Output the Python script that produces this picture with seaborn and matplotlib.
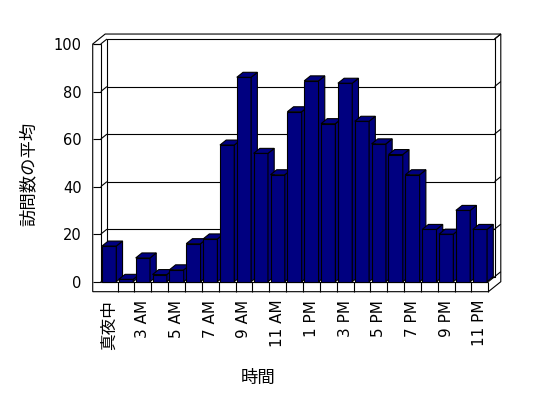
import matplotlib
matplotlib.use("Agg")
import matplotlib.pyplot as plt
from matplotlib.patches import Polygon
import seaborn as sns
import pandas as pd

# データ (時間帯ごとの訪問数の平均)
hours = ["真夜中", "1 AM", "3 AM", "4 AM", "5 AM", "6 AM", "7 AM", "8 AM", "9 AM",
         "10 AM", "11 AM", "12 PM", "1 PM", "2 PM", "3 PM", "4 PM", "5 PM", "6 PM",
         "7 PM", "8 PM", "9 PM", "10 PM", "11 PM"]
visits = [15, 1, 10, 3, 5, 16, 18, 57.5, 86, 54, 45, 71.5, 84.5, 66.5, 83.5, 67.5,
          58, 53.5, 45, 22, 20, 30, 22]
yticks = [0, 20, 40, 60, 80, 100]

df = pd.DataFrame({"時間": hours, "訪問数の平均": visits})

sns.set_style("white")
plt.rcParams['font.family'] = ['DejaVu Sans', 'Noto Sans CJK JP']
for k in ("text.color", "axes.labelcolor", "xtick.color", "ytick.color"):
    plt.rcParams[k] = "black"
jp = ['Noto Sans CJK JP', 'DejaVu Sans']

navy = "#000080"
lw = 0.8

fig = plt.figure(figsize=(5.48, 3.98), dpi=100)
ax = fig.add_axes([0.1838, 0.2922, 0.7073, 0.5972])
ax.set_facecolor("none")

n = len(hours)
x0, x1 = -0.5, n - 0.5
dx, dy = 0.37, 2.1      # 奥行き (データ単位)
xo = x0 - 0.475         # 左の壁の外側
fb = -4.2               # 床の下端


def line(xs, ys, z=1):
    ax.plot(xs, ys, color="black", lw=lw, zorder=z, clip_on=False,
            solid_capstyle="butt")


# 棒 (前面)
sns.barplot(data=df, x="時間", y="訪問数の平均", order=hours, color=navy,
            saturation=1, edgecolor="black", linewidth=lw, width=0.85, ax=ax)
bars = list(ax.containers[0])

# 外枠 (白)
outer = [(xo, fb), (xo, 100), (xo + 2 * dx, 100 + 2 * dy), (x1 + 2 * dx, 100 + 2 * dy),
         (x1 + 2 * dx, fb + 2 * dy), (x1, fb)]
ax.add_patch(Polygon(outer, closed=True, facecolor="white", edgecolor="black",
                     lw=lw, zorder=0, clip_on=False))

# 奥の壁
line([x0 + dx, x1 + dx, x1 + dx, x0 + dx, x0 + dx],
     [dy, dy, 100 + dy, 100 + dy, dy])
line([x1 + dx, x1 + 2 * dx], [100 + dy, 100 + 2 * dy])
# 左の壁
line([x0, x0], [0, 100])
line([xo, x0], [100, 100])
# 目盛線 (奥の壁・左の壁・右端)
for v in yticks:
    line([x0, x0 + dx], [v, v + dy])
    line([x1 + dx, x1 + 2 * dx], [v + dy, v + 2 * dy])
    if 0 < v < 100:
        line([x0 + dx, x1 + dx], [v + dy, v + dy])
# 床
line([x0, x1], [0, 0])
line([x1, x1 + dx], [0, dy])
for k in range(n):
    line([k + 0.5, k + 0.5], [fb, 0])

# 棒の上面と側面
for i, p in enumerate(bars):
    x, w, h = p.get_x(), p.get_width(), p.get_height()
    z = 10 + i
    p.set_zorder(z)
    p.set_clip_on(False)
    side = [(x + w, 0), (x + w + dx, dy), (x + w + dx, h + dy), (x + w, h)]
    top = [(x, h), (x + w, h), (x + w + dx, h + dy), (x + dx, h + dy)]
    for pts in (side, top):
        ax.add_patch(Polygon(pts, closed=True, facecolor=navy, edgecolor="black",
                             lw=lw, zorder=z, clip_on=False))

ax.set_xlim(x0, x1)
ax.set_ylim(0, 100)
for s in ax.spines.values():
    s.set_visible(False)
ax.grid(False)

ax.set_yticks(yticks)
ax.tick_params(axis="y", left=True, direction="out", length=5.8, width=lw,
               pad=8, labelsize=10.5, colors="black")
ax.set_xticks(range(0, n, 2))
ax.set_xticklabels(hours[::2], rotation=90)
ax.tick_params(axis="x", bottom=True, length=0, pad=13, labelsize=11,
               labelcolor="black")
ax.get_xticklabels()[0].set_family(jp)
ax.get_xticklabels()[0].set_fontsize(12)

ax.set_xlabel("時間", fontsize=12.5, family=jp, color="black")
ax.xaxis.set_label_coords(0.406, -0.367)
ax.set_ylabel("訪問数の平均", fontsize=12.5, family=jp, color="black")
ax.yaxis.set_label_coords(-0.162, 0.455)

fig.savefig("out.png", dpi=100, facecolor="white")
